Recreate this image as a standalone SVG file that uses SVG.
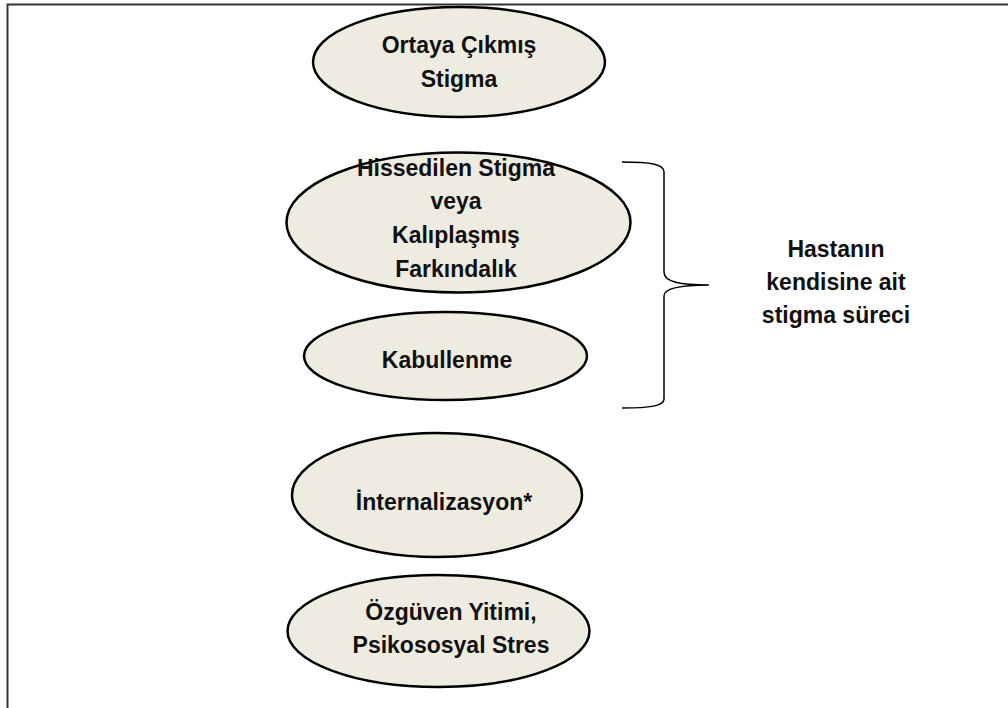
<svg xmlns="http://www.w3.org/2000/svg" width="1008" height="708" viewBox="0 0 1008 708">
<style>
.n ellipse{fill:#eeece1;stroke:#000;stroke-width:2.5}
text{font-family:"Liberation Sans",Arial,sans-serif;font-weight:bold;font-size:23px;fill:#111;text-anchor:middle}
.frame{stroke:#333;stroke-width:2;fill:none}
.brace{stroke:#000;stroke-width:1.5;fill:none}
</style>
<rect width="1008" height="708" fill="#fff"/>
<path class="frame" d="M7.5,708 V4.5 H1008"/>
<g id="n1" class="n"><ellipse cx="459" cy="62" rx="146" ry="55"/><text x="459" y="53">Ortaya Çıkmış</text><text x="459" y="87">Stigma</text></g>
<g id="n2" class="n"><ellipse cx="458.5" cy="222.5" rx="172" ry="70"/><text x="456" y="176">Hissedilen Stigma</text><text x="456" y="209">veya</text><text x="456" y="243">Kalıplaşmış</text><text x="456" y="277">Farkındalık</text></g>
<g id="n3" class="n"><ellipse cx="445.5" cy="356" rx="141.5" ry="44"/><text x="447" y="368">Kabullenme</text></g>
<g id="n4" class="n"><ellipse cx="437" cy="495" rx="145" ry="62"/><text x="444" y="510">İnternalizasyon*</text></g>
<g id="n5" class="n"><ellipse cx="438.5" cy="631" rx="151" ry="56"/><text x="451" y="620">Özgüven Yitimi,</text><text x="451" y="653">Psikososyal Stres</text></g>
<g id="connectors">
<path class="brace" d="M622,162 C650,162 664,164 664,172 V272 C664,282 680,285 709,285 C680,285 664,288 664,296 V399 C664,406 650,408 622,408"/>
</g>
<g id="label"><text x="836" y="257">Hastanın</text><text x="836" y="290">kendisine ait</text><text x="836" y="323">stigma süreci</text></g>
</svg>
